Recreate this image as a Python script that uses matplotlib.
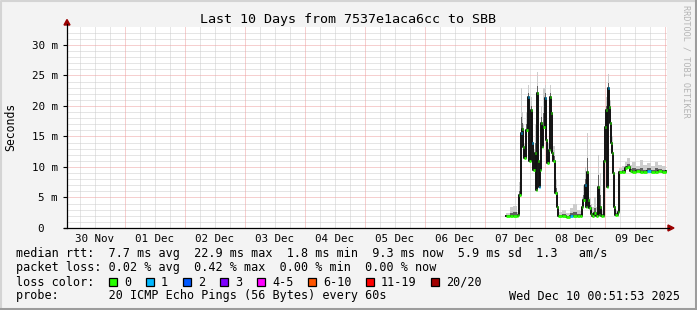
import matplotlib
matplotlib.use("Agg")
import matplotlib.pyplot as plt
from matplotlib.patches import Rectangle, Polygon
from matplotlib.lines import Line2D
from datetime import datetime, timedelta

plt.rcParams['font.family'] = ['DejaVu Sans Mono']

# time axis: hours since the start of the window
start = datetime(2025, 11, 30, 0, 51, 53)
span_hours = 240

# median rtt samples (hours since start, ms), smoke top (ms), lost pings
hours = [175.5, 177.0, 178.5, 180.0, 180.5, 180.9, 181.6, 182.1, 182.5, 182.9,
         183.5, 184.3, 184.8, 185.5, 186.0, 186.5, 187.1, 187.5, 187.9, 188.3,
         188.7, 189.2, 189.6, 190.1, 190.5, 191.1, 191.6, 192.1, 192.7, 193.2,
         193.6, 194.0, 194.5, 195.3, 195.9, 196.5, 198.0, 199.5, 201.0, 202.5,
         204.0, 205.2, 205.9, 206.5, 207.2, 207.6, 208.0, 208.4, 208.9, 209.5,
         210.0, 210.8, 211.6, 212.3, 212.7, 213.1, 213.6, 214.3, 214.7, 215.1,
         215.5, 215.9, 216.4, 216.8, 217.2, 217.6, 218.0, 218.4, 218.8, 219.2,
         220.0, 220.5, 220.9, 222.0, 223.0, 224.0, 225.0, 226.0, 227.5, 229.0,
         230.5, 232.0, 233.5, 235.0, 236.5, 238.0, 239.5]
median_ms = [2.0, 2.0, 2.0, 2.0, 2.2, 5.4, 15.5, 16.3, 13.3, 11.4,
             16.1, 21.5, 11.0, 19.3, 13.9, 9.5, 12.3, 6.2, 22.1, 11.0,
             6.8, 9.5, 17.2, 13.3, 16.6, 21.3, 14.4, 10.6, 12.8, 21.5,
             18.8, 12.3, 11.0, 5.7, 3.5, 2.0, 2.0, 1.8, 2.0, 2.0,
             2.0, 2.0, 3.5, 4.6, 7.0, 3.5, 9.2, 4.6, 3.2, 2.3,
             2.0, 2.4, 2.0, 6.8, 2.1, 3.5, 2.0, 2.0, 11.0, 16.6,
             19.3, 6.8, 22.9, 19.9, 17.2, 13.9, 12.3, 9.0, 3.5, 2.1,
             2.1, 2.6, 9.2, 9.2, 9.8, 10.0, 9.3, 9.2, 9.3, 9.2,
             9.2, 9.3, 9.2, 9.2, 9.3, 9.2, 9.3]
smoke_hi_ms = [2.4, 3.4, 3.6, 2.6, 3.0, 7.5, 23.0, 19.0, 17.0, 14.0,
               19.0, 23.5, 16.0, 21.5, 18.0, 13.0, 17.0, 9.5, 25.5, 15.0,
               10.0, 14.0, 20.0, 17.0, 23.0, 23.5, 18.0, 14.0, 17.0, 23.5,
               21.0, 15.0, 13.5, 8.0, 5.0, 2.6, 3.0, 2.5, 3.2, 4.0,
               3.0, 2.8, 5.0, 7.0, 10.0, 6.0, 15.5, 8.0, 5.0, 4.0,
               3.5, 5.0, 3.5, 12.0, 4.0, 9.0, 3.0, 3.0, 13.0, 19.0,
               21.5, 10.0, 25.2, 22.0, 21.0, 17.0, 15.0, 12.0, 6.0, 3.0,
               3.0, 4.0, 9.8, 10.2, 10.8, 11.5, 10.4, 10.8, 10.2, 11.2,
               10.3, 10.6, 10.2, 10.9, 10.4, 10.2, 9.9]
lost_pings = [0, 0, 0, 0, 0, 0, 1, 0, 0, 0,
              0, 1, 0, 0, 1, 0, 0, 0, 0, 0,
              1, 0, 0, 0, 0, 1, 0, 0, 0, 0,
              0, 0, 0, 0, 0, 0, 0, 0, 1, 0,
              0, 0, 0, 0, 1, 0, 0, 0, 0, 0,
              0, 0, 0, 0, 0, 0, 0, 0, 0, 0,
              0, 0, 1, 0, 0, 0, 0, 0, 0, 0,
              0, 0, 0, 0, 0, 0, 0, 0, 0, 0,
              0, 1, 0, 0, 0, 0, 0]

loss_labels = ['0', '1', '2', '3', '4-5', '6-10', '11-19', '20/20']
loss_colors = ['#26ff00', '#00b8ff', '#0059ff', '#7e00ff', '#ff00ff',
               '#ff5500', '#ff0000', '#a10000']

legend_lines = [
    'median rtt:  7.7 ms avg  22.9 ms max  1.8 ms min  9.3 ms now  5.9 ms sd  1.3   am/s',
    'packet loss: 0.02 % avg  0.42 % max  0.00 % min  0.00 % now',
]
probe_line = 'probe:       20 ICMP Echo Pings (56 Bytes) every 60s'
stamp = 'Wed Dec 10 00:51:53 2025'

W, H = 697, 310


def fx(x):
    return x / W


def fy(y):
    return 1 - y / H


fig = plt.figure(figsize=(W / 100, H / 100), dpi=100, facecolor='#f3f3f3')

# 3d frame around the image
fig.add_artist(Line2D([fx(0.5), fx(0.5), fx(W - 1)], [fy(H - 1), fy(0.5), fy(0.5)],
                      transform=fig.transFigure, color='#d4d4d4', lw=1.5))
fig.add_artist(Line2D([fx(1), fx(W - 1), fx(W - 1)], [fy(H - 1), fy(H - 1), fy(0.5)],
                      transform=fig.transFigure, color='#9c9c9c', lw=2.2))

ax = fig.add_axes([fx(67), fy(228), 600 / W, 201 / H])
ax.set_facecolor('white')
ax.set_xlim(0, span_hours)
ax.set_ylim(0, 32.95)
for s in ax.spines.values():
    s.set_visible(False)

# grid: minor every 6 h / 1 ms, major at midnight / 5 ms
first_midnight = (datetime(2025, 12, 1) - start).total_seconds() / 3600
minor_x = [first_midnight - 18 + 6 * k for k in range(45)]
for x in minor_x:
    if 0 < x < span_hours:
        major = abs(((x - first_midnight) / 24) - round((x - first_midnight) / 24)) < 1e-6
        ax.axvline(x, color='#eea0a0' if major else '#cdcdcd', lw=0.72,
                   ls=(0, (1, 1)), zorder=1 if major else 0.5)
for v in range(1, 33):
    ax.axhline(v, color='#eea0a0' if v % 5 == 0 else '#cdcdcd', lw=0.72,
               ls=(0, (1, 1)), zorder=1 if v % 5 == 0 else 0.5)

# smoke
mid_ms = [m + (h - m) * 0.35 for m, h in zip(median_ms, smoke_hi_ms)]
ax.fill_between(hours, median_ms, smoke_hi_ms, step='post', color='#cdcdcd',
                lw=0, zorder=2)
ax.fill_between(hours, median_ms, mid_ms, step='post', color='#606060',
                lw=0, zorder=2.1)

# median line: black steps, coloured levels by packet loss
ax.plot(hours, median_ms, drawstyle='steps-post', color='#111111', lw=1.4, zorder=3)
x_right = hours[1:] + [hours[-1] + 0.5]
ax.hlines(median_ms, hours, x_right, colors=[loss_colors[l] for l in lost_pings],
          lw=2.0, zorder=4)

# ticks and labels
noon = [(datetime(2025, 11, 30, 12) + timedelta(days=k) - start).total_seconds() / 3600
        for k in range(10)]
ax.set_xticks(noon)
ax.set_xticklabels([(datetime(2025, 11, 30) + timedelta(days=k)).strftime('%d %b')
                    for k in range(10)])
yt = list(range(0, 31, 5))
ax.set_yticks(yt)
ax.set_yticklabels(['0  '] + ['%d m' % v for v in yt[1:]])
ax.tick_params(axis='x', length=0, pad=4.5, labelsize=7.8)
ax.tick_params(axis='y', length=3, width=0.8, pad=3.5, labelsize=7.8, color='black')

# axes with arrows
fig.add_artist(Line2D([fx(67), fx(67)], [fy(228), fy(24)], transform=fig.transFigure,
                      color='black', lw=0.9))
fig.add_artist(Line2D([fx(64), fx(669)], [fy(228), fy(228)], transform=fig.transFigure,
                      color='black', lw=0.9))
fig.add_artist(Polygon([[fx(64), fy(25)], [fx(70), fy(25)], [fx(67), fy(19.5)]],
                       closed=True, transform=fig.transFigure, color='#9a0000'))
fig.add_artist(Polygon([[fx(668), fy(225)], [fx(668), fy(231)], [fx(674), fy(228)]],
                       closed=True, transform=fig.transFigure, color='#9a0000'))

fig.text(fx(348), fy(19), 'Last 10 Days from 7537e1aca6cc to SBB', ha='center',
         va='center', fontsize=9.6)
fig.text(fx(11), fy(127), 'Seconds', rotation=90, ha='center', va='center', fontsize=8.3)
fig.text(fx(686), fy(5), 'RRDTOOL / TOBI OETIKER', rotation=-90, ha='center', va='top',
         fontsize=6.1, color='#b4b4b4')

# legend block
lsize = 8.5
for y, line in zip([254, 268], legend_lines):
    fig.text(fx(15.5), fy(y), line, ha='left', va='center', fontsize=lsize)
fig.text(fx(15.5), fy(296), probe_line, ha='left', va='center', fontsize=lsize)
fig.text(fx(680), fy(296), stamp, ha='right', va='center', fontsize=lsize)

fig.text(fx(15.5), fy(282), 'loss color:', ha='left', va='center', fontsize=lsize)
swatch_x = [109, 146, 183, 220, 257, 308, 366, 431]
for sx, lab, col in zip(swatch_x, loss_labels, loss_colors):
    fig.add_artist(Rectangle((fx(sx), fy(286)), 8 / W, 8 / H, transform=fig.transFigure,
                             facecolor=col, edgecolor='black', lw=0.9))
    fig.text(fx(sx + 15), fy(282), lab, ha='left', va='center', fontsize=lsize)

fig.savefig('out.png', dpi=100, facecolor=fig.get_facecolor())
